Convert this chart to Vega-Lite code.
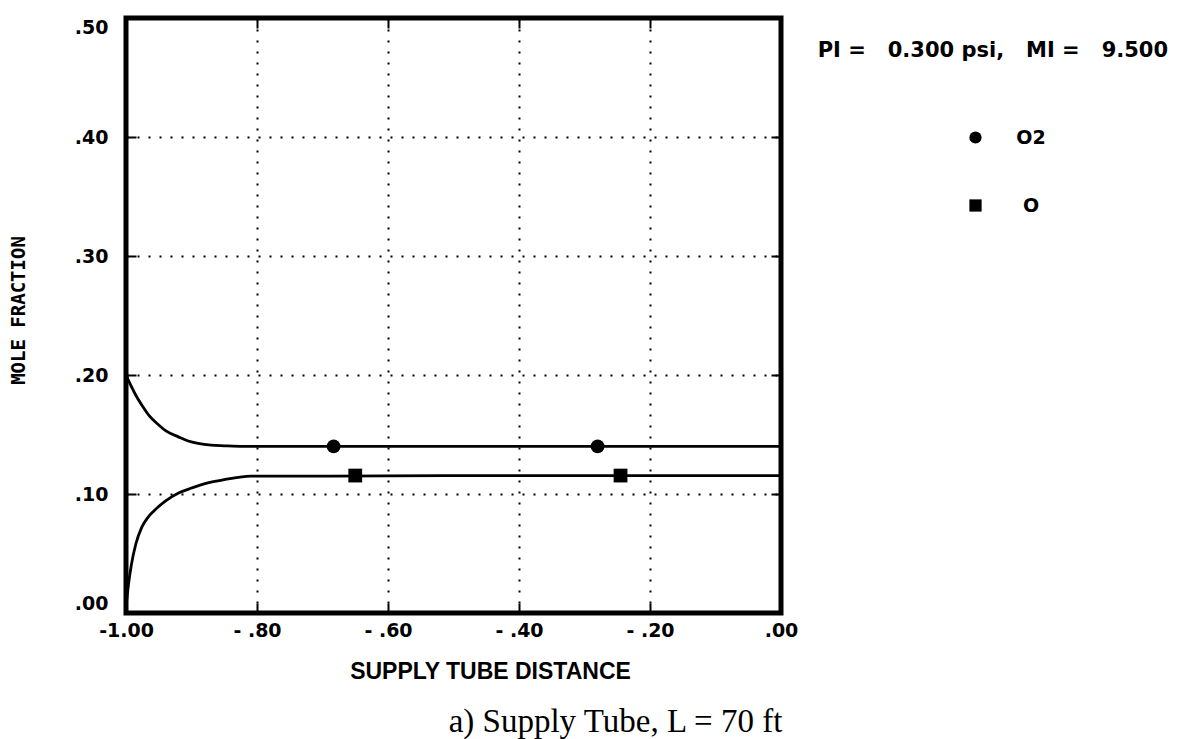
{
  "$schema": "https://vega.github.io/schema/vega-lite/v6.json",
  "width": 655,
  "height": 595,
  "autosize": {"type": "none"},
  "padding": {"left": 126, "top": 18, "right": 404, "bottom": 126},
  "background": "white",
  "config": {
    "view": {"stroke": "black", "strokeWidth": 5},
    "axis": {
      "domain": false,
      "labelColor": "black",
      "labelFont": "DejaVu Sans",
      "labelFontSize": 19,
      "labelFontWeight": "bold",
      "tickColor": "black",
      "tickWidth": 2,
      "tickSize": -10,
      "titleColor": "black"
    }
  },
  "title": {
    "text": "a) Supply Tube, L = 70 ft",
    "orient": "bottom",
    "anchor": "middle",
    "font": "Liberation Serif",
    "fontSize": 33,
    "fontWeight": "normal",
    "color": "black",
    "dx": 162,
    "offset": 23
  },
  "datasets": {
    "curves": [
      {"species": "O2", "distance": -1.0, "fraction": 0.2},
      {"species": "O2", "distance": -0.995, "fraction": 0.194},
      {"species": "O2", "distance": -0.985, "fraction": 0.183},
      {"species": "O2", "distance": -0.975, "fraction": 0.174},
      {"species": "O2", "distance": -0.965, "fraction": 0.166},
      {"species": "O2", "distance": -0.95, "fraction": 0.158},
      {"species": "O2", "distance": -0.939, "fraction": 0.153},
      {"species": "O2", "distance": -0.92, "fraction": 0.148},
      {"species": "O2", "distance": -0.905, "fraction": 0.1445},
      {"species": "O2", "distance": -0.89, "fraction": 0.1425},
      {"species": "O2", "distance": -0.87, "fraction": 0.141},
      {"species": "O2", "distance": -0.85, "fraction": 0.1405},
      {"species": "O2", "distance": -0.82, "fraction": 0.14},
      {"species": "O2", "distance": -0.7, "fraction": 0.14},
      {"species": "O2", "distance": -0.5, "fraction": 0.14},
      {"species": "O2", "distance": -0.3, "fraction": 0.14},
      {"species": "O2", "distance": 0.0, "fraction": 0.14},
      {"species": "O", "distance": -1.0, "fraction": 0.005},
      {"species": "O", "distance": -0.996, "fraction": 0.025},
      {"species": "O", "distance": -0.992, "fraction": 0.04},
      {"species": "O", "distance": -0.985, "fraction": 0.058},
      {"species": "O", "distance": -0.976, "fraction": 0.072},
      {"species": "O", "distance": -0.967, "fraction": 0.08},
      {"species": "O", "distance": -0.957, "fraction": 0.086},
      {"species": "O", "distance": -0.94, "fraction": 0.094},
      {"species": "O", "distance": -0.919, "fraction": 0.101},
      {"species": "O", "distance": -0.9, "fraction": 0.105},
      {"species": "O", "distance": -0.878, "fraction": 0.109},
      {"species": "O", "distance": -0.85, "fraction": 0.112},
      {"species": "O", "distance": -0.81, "fraction": 0.115},
      {"species": "O", "distance": -0.7, "fraction": 0.115},
      {"species": "O", "distance": -0.5, "fraction": 0.1155},
      {"species": "O", "distance": 0.0, "fraction": 0.1155}
    ],
    "markers": [
      {"species": "O2", "distance": -0.683, "fraction": 0.14},
      {"species": "O2", "distance": -0.28, "fraction": 0.14},
      {"species": "O", "distance": -0.65, "fraction": 0.1155},
      {"species": "O", "distance": -0.245, "fraction": 0.1155}
    ],
    "note": [
      {"label": "PI =\u00a0\u00a0\u00a00.300 psi,\u00a0\u00a0\u00a0MI =\u00a0\u00a0\u00a09.500", "distance": 0.056, "fraction": 0.472}
    ]
  },
  "layer": [
    {
      "data": {"name": "curves"},
      "mark": {"type": "line", "color": "black", "strokeWidth": 2.8, "interpolate": "monotone"},
      "encoding": {
        "x": {
          "field": "distance",
          "type": "quantitative",
          "scale": {"domain": [-1, 0], "nice": false, "zero": false},
          "axis": {
            "orient": "bottom",
            "values": [-1, -0.8, -0.6, -0.4, -0.2, 0],
            "labelExpr": "datum.value == -1 ? '-1.00' : datum.value == 0 ? '.00' : '- ' + replace(format(-datum.value, '.2f'), '0.', '.')",
            "labelFlush": false,
            "labelPadding": 18,
            "grid": true,
            "gridColor": "black",
            "gridDash": [2, 9],
            "gridWidth": 2,
            "gridOpacity": 1,
            "title": "SUPPLY TUBE DISTANCE",
            "titleFont": "Liberation Sans",
            "titleFontSize": 23,
            "titleFontWeight": "bold",
            "titleX": 364,
            "titleY": 58,
            "titleBaseline": "middle"
          }
        },
        "y": {
          "field": "fraction",
          "type": "quantitative",
          "scale": {"domain": [0, 0.5], "nice": false},
          "axis": {
            "orient": "left",
            "values": [0, 0.1, 0.2, 0.3, 0.4, 0.5],
            "labelExpr": "replace(format(datum.value, '.2f'), '0.', '.')",
            "labelFlush": true,
            "labelPadding": 28,
            "grid": true,
            "gridColor": "black",
            "gridDash": [2, 9],
            "gridWidth": 2,
            "gridOpacity": 1,
            "title": "MOLE FRACTION",
            "titleFont": "DejaVu Sans Mono",
            "titleFontSize": 19,
            "titleFontWeight": "bold",
            "titleAngle": -90,
            "titleX": -108,
            "titleY": 292,
            "titleBaseline": "middle",
            "titleAlign": "center"
          }
        },
        "detail": {"field": "species"}
      }
    },
    {
      "data": {"name": "markers"},
      "mark": {"type": "point", "filled": true, "color": "black", "opacity": 1, "size": 190},
      "encoding": {
        "x": {
          "field": "distance",
          "type": "quantitative",
          "axis": {"orient": "top", "values": [-1, -0.8, -0.6, -0.4, -0.2, 0], "labels": false, "grid": false, "title": null}
        },
        "y": {
          "field": "fraction",
          "type": "quantitative",
          "axis": {"orient": "right", "values": [0, 0.1, 0.2, 0.3, 0.4, 0.5], "labels": false, "grid": false, "title": null}
        },
        "shape": {
          "field": "species",
          "type": "nominal",
          "scale": {"domain": ["O2", "O"], "range": ["circle", "square"]},
          "legend": {
            "title": null,
            "orient": "none",
            "legendX": 840,
            "legendY": 110,
            "padding": 0,
            "symbolSize": 150,
            "symbolFillColor": "black",
            "symbolStrokeColor": "black",
            "labelFont": "DejaVu Sans",
            "labelFontSize": 19,
            "labelFontWeight": "bold",
            "labelColor": "black",
            "labelAlign": "center",
            "labelOffset": 46,
            "rowPadding": 48
          }
        }
      }
    },
    {
      "data": {"name": "note"},
      "mark": {"type": "text", "align": "left", "baseline": "middle", "font": "DejaVu Sans", "fontSize": 21, "fontWeight": "bold", "color": "black"},
      "encoding": {
        "x": {"field": "distance", "type": "quantitative", "axis": null},
        "y": {"field": "fraction", "type": "quantitative", "axis": null},
        "text": {"field": "label"}
      }
    }
  ],
  "resolve": {"axis": {"x": "independent", "y": "independent"}}
}
